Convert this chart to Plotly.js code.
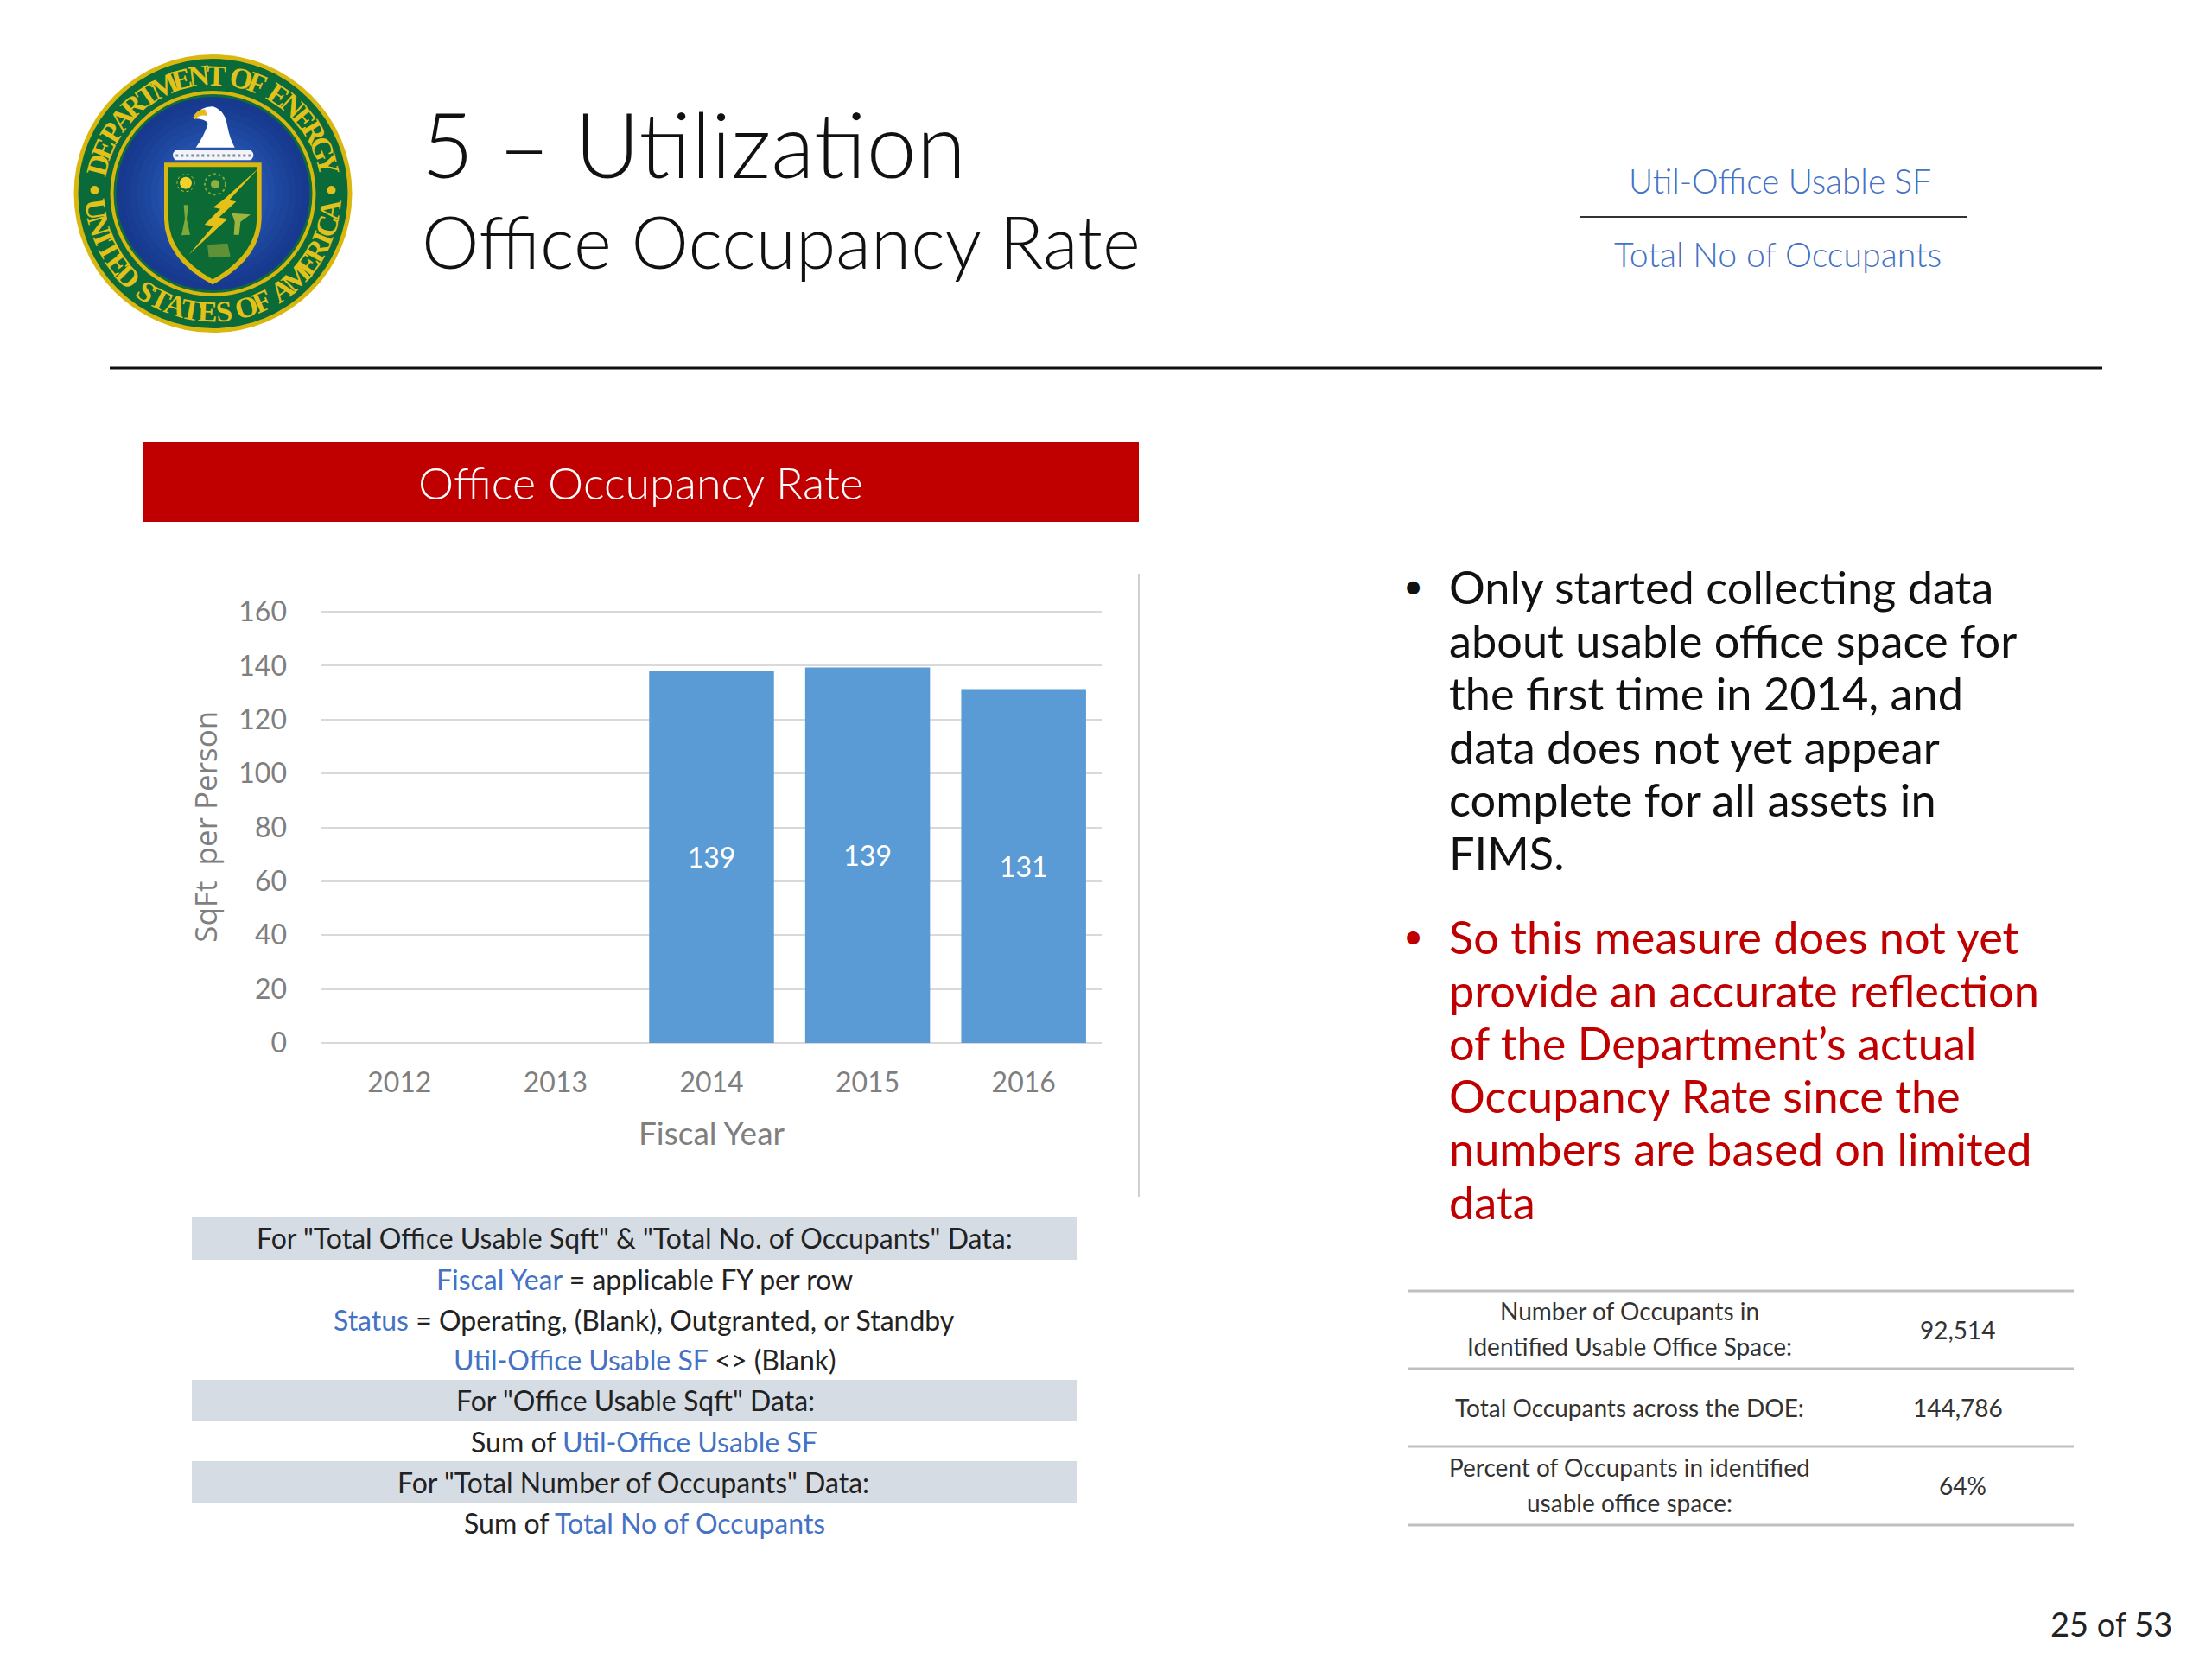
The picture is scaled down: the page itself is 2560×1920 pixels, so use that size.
<!DOCTYPE html>
<html>
<head>
<meta charset="utf-8">
<title>Office Occupancy Rate</title>
<script src="https://cdn.plot.ly/plotly-3.0.1.min.js"></script>
<style>html,body{margin:0;padding:0;background:#fff}#chart{width:2560px;height:1920px}</style>
</head>
<body>
<div id="chart"></div>
<script>
// ---- data ----
const fiscalYears = ['2012', '2013', '2014', '2015', '2016'];
const sqftPerPerson = [null, null, 138, 139.3, 131.3];
const barLabels = ['', '', '139', '139', '131'];
const yTicks = [0, 20, 40, 60, 80, 100, 120, 140, 160];
const bulletBlack = ['Only started collecting data', 'about usable office space for', 'the first time in 2014, and', 'data does not yet appear', 'complete for all assets in', 'FIMS.'];
const bulletRed = ['So this measure does not yet', 'provide an accurate reflection', 'of the Department\u2019s actual', 'Occupancy Rate since the', 'numbers are based on limited', 'data'];
const BL = t => '<span style="color:#4472C4">' + t + '</span>';
const criteriaRows = [
  'For "Total Office Usable Sqft" &amp; "Total No. of Occupants" Data:',
  BL('Fiscal Year') + ' = applicable FY per row',
  BL('Status') + ' = Operating, (Blank), Outgranted, or Standby',
  BL('Util-Office Usable SF') + ' &lt;&gt; (Blank)',
  'For "Office Usable Sqft" Data:',
  'Sum of ' + BL('Util-Office Usable SF'),
  'For "Total Number of Occupants" Data:',
  'Sum of ' + BL('Total No of Occupants')
];
const occupancyLabels = [['Number of Occupants in', 'Identified Usable Office Space:'], ['Total Occupants across the DOE:'], ['Percent of Occupants in identified', 'usable office space:']];
const occupancyValues = ['92,514', '144,786', '64%'];

// ---- page helpers (page pixels -> paper fractions) ----
const W = 2560, H = 1920;
const fx = x => x / W, fy = y => 1 - y / H;
const FONT = 'Lato, Carlito, sans-serif';
const annotations = [], shapes = [];
function txt(x, y, text, size, color, opt) {
  annotations.push(Object.assign({xref: 'paper', yref: 'paper', x: fx(x), y: fy(y), text, showarrow: false,
    xanchor: 'center', yanchor: 'middle', borderpad: 0, font: {family: FONT, size, color}}, opt || {}));
}
function rect(x0, y0, x1, y1, fill) {
  shapes.push({type: 'rect', xref: 'paper', yref: 'paper', x0: fx(x0), x1: fx(x1), y0: fy(y0), y1: fy(y1), fillcolor: fill, line: {width: 0}, layer: 'below'});
}
function hline(x0, x1, y, color, w) {
  shapes.push({type: 'line', xref: 'paper', yref: 'paper', x0: fx(x0), x1: fx(x1), y0: fy(y), y1: fy(y), line: {color, width: w}});
}
function circle(cx, cy, r, fill, line) {
  shapes.push({type: 'circle', xref: 'paper', yref: 'paper', x0: fx(cx - r), x1: fx(cx + r), y0: fy(cy - r), y1: fy(cy + r), fillcolor: fill, line: line || {width: 0}});
}

// ---- slide furniture ----
txt(487, 165, '5 \u2013 Utilization', 104, '#111111', {xanchor: 'left', font: {family: FONT, size: 104, color: '#111111', weight: 300}});
txt(487, 278, 'Office Occupancy Rate', 84, '#111111', {xanchor: 'left', font: {family: FONT, size: 84, color: '#111111', weight: 300}});
txt(2060, 209, 'Util-Office Usable SF', 38.7, '#4472C4', {font: {family: FONT, size: 38.7, color: '#4472C4', weight: 300}});
hline(1829, 2276, 251, '#333333', 2);
txt(2057, 294, 'Total No of Occupants', 39.3, '#4472C4', {font: {family: FONT, size: 39.3, color: '#4472C4', weight: 300}});
hline(127, 2433, 426, '#111111', 3);
rect(166, 512, 1318, 604, '#C00000');
txt(741, 558, 'Office Occupancy Rate', 52, '#FFFFFF', {font: {family: FONT, size: 52, color: '#FFFFFF', weight: 300}});
shapes.push({type: 'line', xref: 'paper', yref: 'paper', x0: fx(1318), x1: fx(1318), y0: fy(664), y1: fy(1385), line: {color: '#D0D0D0', width: 2}});

// ---- bullets ----
const lineYs = [678, 740, 801, 863, 925, 986];
const redYs = [1083, 1145, 1206, 1267, 1328, 1390];
bulletBlack.forEach((t, i) => txt(1676, lineYs[i], t, 52.3, '#111111', {xanchor: 'left'}));
bulletRed.forEach((t, i) => txt(1676, redYs[i], t, 52.3, '#C00000', {xanchor: 'left'}));
txt(1635, 678, '\u2022', 40, '#111111');
txt(1635, 1083, '\u2022', 40, '#C00000');

// ---- criteria table ----
[[1409, 1458], [1597, 1644], [1691, 1739]].forEach(b => rect(222, b[0], 1246, b[1], '#D6DCE4'));
const rowYs = [1432, 1480, 1527, 1573, 1620, 1668, 1715, 1762];
const rowXs = [734, 746, 745, 746, 735, 745, 733, 746];
criteriaRows.forEach((t, i) => txt(rowXs[i], rowYs[i], t, 32, '#222222'));

// ---- occupancy table ----
[1494, 1584, 1674, 1765].forEach(y => hline(1629, 2400, y, '#BFBFBF', 3));
const labelYs = [[1517, 1558], [1629], [1698, 1739]];
occupancyLabels.forEach((rows, i) => rows.forEach((t, j) => txt(1886, labelYs[i][j], t, 28, '#333333')));
const valueYs = [1539, 1629, 1719];
const valueXs = [2266, 2266, 2271];
occupancyValues.forEach((t, i) => txt(valueXs[i], valueYs[i], t, 28, '#333333'));
txt(2515, 1879, '25 of 53', 38, '#222222', {xanchor: 'right'});

// ---- DOE seal ----
const SX = 246.5, SY = 224;
const cx = c => 60 + c / 3, cy = c => 40 + c / 3;
function sealPath(d, fill, line) {
  const path = d.replace(/(-?\d+(?:\.\d+)?),(-?\d+(?:\.\d+)?)/g, (m, a, b) => fx(cx(+a)).toFixed(5) + ' ' + fy(cy(+b)).toFixed(5));
  shapes.push({type: 'path', xref: 'paper', yref: 'paper', path, fillcolor: fill, line: line || {width: 0}});
}
circle(SX, SY, 161, '#D9B70F');
circle(SX, SY, 156, '#0B6A3A');
circle(SX, SY, 119, '#D9B70F');
circle(SX, SY, 115, '#0F6A3E');
circle(SX, SY, 112, '#173A8E');
[[104, '#183C92'], [96, '#1A4096'], [88, '#1C449B'], [80, '#1E489F'], [72, '#214CA5'], [64, '#2450AA'], [56, '#2754AE'], [48, '#2A58B2']]
  .forEach(s => circle(SX, SY, s[0], s[1]));
sealPath('M390,445 L728,445 L728,640 Q725,780 558,868 Q392,780 390,640 Z', '#D9B70F');
sealPath('M405,460 L712,460 L712,640 Q708,765 558,850 Q408,765 405,640 Z', '#0C6B35');
sealPath('M720,462 L600,570 L560,600 L585,605 L530,660 L560,665 L475,765 L610,640 L580,635 L640,580 L615,575 Z', '#E3C118');
circle(cx(465), cy(515), 7, '#EFD22A');
circle(cx(465), cy(515), 10, 'rgba(0,0,0,0)', {color: '#C9BE3A', width: 1, dash: 'dot'});
circle(cx(567), cy(520), 12, 'rgba(0,0,0,0)', {color: '#7FA83A', width: 2, dash: 'dot'});
circle(cx(567), cy(520), 5, '#8FB040');
sealPath('M458,592 L474,592 L468,640 L480,695 L450,697 L462,640 Z', '#7FA83A');
sealPath('M625,620 L690,625 L655,650 L650,695 L632,695 L635,650 Z', '#9DB53C');
sealPath('M540,730 L610,725 L620,770 L545,775 Z', '#5F9238');
sealPath('M492,284 Q520,248 560,250 Q602,262 610,320 Q618,362 635,392 L500,392 Q530,350 542,310 Q535,292 492,292 Z', '#FFFFFF');
sealPath('M490,288 Q505,258 532,260 L540,282 Q512,276 496,295 Z', '#E8B81E');
sealPath('M428,402 L692,402 Q708,418 692,436 L428,436 Q412,418 428,402 Z', '#F2F4F8');
sealPath('M430,420 L690,420', 'rgba(0,0,0,0)', {color: '#7C8AA3', width: 3, dash: 'dot'});

const SEAL_R = 137, SEAL_FONT = 'Liberation Serif, serif';
const GLYPH = c => c === ' ' ? 0.42 : 'MW'.includes(c) ? 1.25 : 'I'.includes(c) ? 0.62 : 1;
function arcText(str, fromDeg, toDeg, bottom) {
  const w = [...str].map(GLYPH), total = w.reduce((a, b) => a + b, 0);
  let run = 0;
  [...str].forEach((c, i) => {
    const a = fromDeg + (toDeg - fromDeg) * (run + w[i] / 2) / total;
    run += w[i];
    if (c === ' ') return;
    const r = a * Math.PI / 180;
    const x = SX + SEAL_R * Math.sin(r);
    const y = bottom ? SY + SEAL_R * Math.cos(r) : SY - SEAL_R * Math.cos(r);
    txt(x, y, c, 34, '#E2C21A', {textangle: bottom ? -a : a, font: {family: SEAL_FONT, size: 34, color: '#E2C21A', weight: 700}});
  });
}
arcText('DEPARTMENT OF ENERGY', -80, 80, false);
arcText('UNITED STATES OF AMERICA', -86, 86, true);
circle(SX - 137, SY - 4, 5, '#E2C21A');
circle(SX + 137, SY - 4, 5, '#E2C21A');

// ---- chart ----
const barTrace = {
  type: 'bar', x: fiscalYears, y: sqftPerPerson, text: barLabels,
  textposition: 'inside', insidetextanchor: 'middle', textangle: 0,
  textfont: {family: FONT, size: 32, color: '#FFFFFF'},
  marker: {color: '#5B9BD5', line: {width: 0}}, hoverinfo: 'skip', cliponaxis: false
};
const layout = {
  width: W, height: H, margin: {l: 0, r: 0, t: 0, b: 0, pad: 0},
  paper_bgcolor: '#FFFFFF', plot_bgcolor: 'rgba(0,0,0,0)', showlegend: false, bargap: 0.2,
  xaxis: {domain: [372 / W, 1275 / W], type: 'category', categoryorder: 'array', categoryarray: fiscalYears,
    range: [-0.5, 4.5], showgrid: false, zeroline: false, showline: false, ticks: '', anchor: 'y',
    ticklabelstandoff: 24, tickfont: {family: FONT, size: 32, color: '#7F7F7F'},
    title: {text: 'Fiscal Year', standoff: 29, font: {family: FONT, size: 37, color: '#7F7F7F'}}},
  yaxis: {domain: [1 - 1207 / H, 1 - 706.5 / H], range: [0, 160.5], tickvals: yTicks, ticktext: yTicks.map(String),
    showgrid: true, gridcolor: '#D9D9D9', gridwidth: 2, zeroline: true, zerolinecolor: '#D9D9D9', zerolinewidth: 2,
    showline: false, ticks: '', anchor: 'x', ticklabelstandoff: 39,
    tickfont: {family: FONT, size: 32, color: '#7F7F7F'},
    title: {text: 'SqFt  per Person', standoff: 14, font: {family: 'Open Sans, sans-serif', size: 35, color: '#7F7F7F'}}},
  shapes, annotations
};
Plotly.newPlot('chart', [barTrace], layout, {displayModeBar: false, staticPlot: true, responsive: false});
</script>
</body>
</html>
